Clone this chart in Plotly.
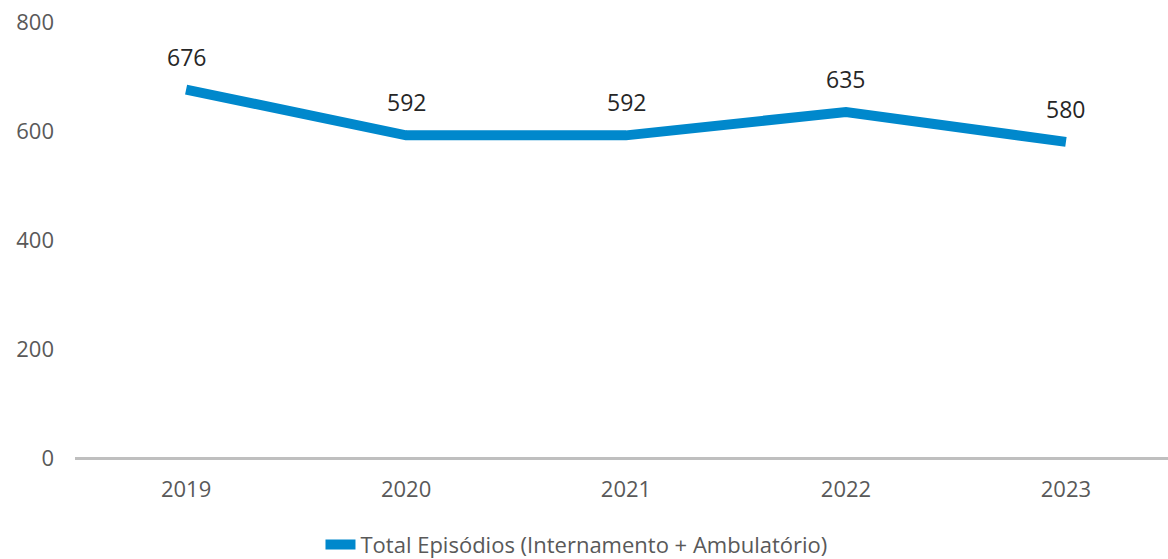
import plotly.graph_objects as go

years = [2019, 2020, 2021, 2022, 2023]
episodes = [676, 592, 592, 635, 580]
series_name = "Total Episódios (Internamento + Ambulatório)"
y_ticks = [0, 200, 400, 600, 800]

FONT = "'Open Sans', Lato, sans-serif"
BLUE = "#0088CC"

fig = go.Figure()
fig.add_trace(go.Scatter(
    x=years, y=episodes, name=series_name,
    mode="lines",
    line=dict(color=BLUE, width=10, shape="linear"),
))

# value labels above each point
for x, v in zip(years, episodes):
    fig.add_annotation(x=x, y=v, text=str(v), showarrow=False,
                       yshift=33, font=dict(family=FONT, size=23, color="#262626"))

fig.update_layout(
    width=1168, height=559,
    margin=dict(l=75, r=0, t=22, b=101, autoexpand=False),
    plot_bgcolor="white", paper_bgcolor="white",
    font=dict(family=FONT, size=22, color="#595959"),
    showlegend=True,
    legend=dict(orientation="h", x=0.2246, xanchor="left", y=-0.199, yanchor="middle",
                font=dict(size=22, color="#595959")),
)
fig.update_xaxes(
    range=[2018.495, 2023.464], tickvals=years, ticktext=[str(y) for y in years],
    showgrid=False, zeroline=False, showline=False, ticks="", automargin=False,
    tickfont=dict(size=22, color="#595959"), ticklabelstandoff=16,
)
fig.update_yaxes(
    range=[0, 800], tickvals=y_ticks, showgrid=False, zeroline=True,
    zerolinecolor="#BFBFBF", zerolinewidth=3, ticks="", automargin=False,
    tickfont=dict(size=22, color="#595959"), ticklabelstandoff=20,
)

# drop the default 8px body margin so the figure sits at the page corner
fig.write_html("out.html", config={"displayModeBar": False},
               post_script="document.body.style.margin = '0';")
